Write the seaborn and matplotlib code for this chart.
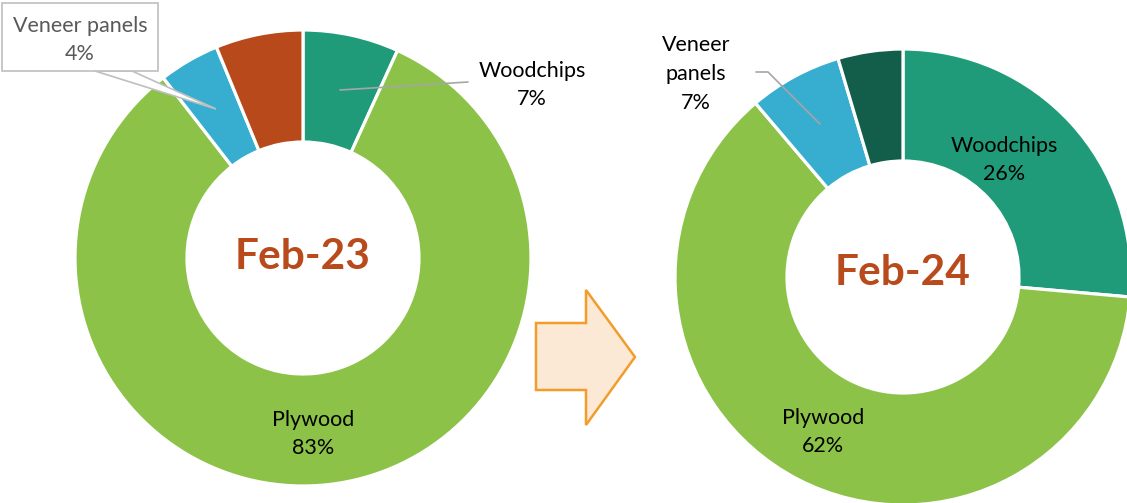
import matplotlib
matplotlib.use("Agg")
import matplotlib.pyplot as plt
import seaborn as sns
from matplotlib.patches import Polygon, Rectangle

# ---- data ----
categories = ["Woodchips", "Plywood", "Veneer panels", "Other"]
feb23_values = [6.8, 82.7, 4.3, 6.2]
feb24_values = [26.4, 62.4, 6.6, 4.6]
titles = ["Feb-23", "Feb-24"]
colors23 = ["#1f9b79", "#8cc247", "#37aed0", "#b7491a"]
colors24 = ["#1f9b79", "#8cc247", "#37aed0", "#135e4b"]

sns.set_theme(style="white")
plt.rcParams['font.family'] = ['Lato', 'DejaVu Sans']

W, H = 1127, 503
fig = plt.figure(figsize=(W / 100, H / 100), dpi=100)
ax = fig.add_axes([0, 0, 1, 1])

def Y(ypx):
    return H - ypx

R, r = 228, 116
wp = dict(width=R - r, edgecolor="white", linewidth=2.3)

ax.pie(feb23_values, colors=sns.color_palette(colors23), startangle=90, counterclock=False,
       radius=R, center=(303, Y(258)), wedgeprops=wp, frame=True)
ax.pie(feb24_values, colors=sns.color_palette(colors24), startangle=90, counterclock=False,
       radius=R, center=(903, Y(277)), wedgeprops=wp, frame=True)
ax.set_xlim(0, W)
ax.set_ylim(0, H)
ax.set_aspect("equal")
ax.axis("off")

def pct(v):
    return f"{round(v):.0f}%"

lab_fs = 15.5
txt = "black"
ls = 1.55

# Feb-23 labels
ax.plot([340, 468], [Y(90), Y(82)], color="#a6a6a6", lw=1.2)
ax.text(532, Y(85), f"{categories[0]}\n{pct(feb23_values[0])}", ha="center", va="center",
        fontsize=lab_fs, color=txt, linespacing=ls)
ax.text(313, Y(434), f"{categories[1]}\n{pct(feb23_values[1])}", ha="center", va="center",
        fontsize=lab_fs, color=txt, linespacing=ls)
# callout for veneer panels
ax.add_patch(Polygon([(95, Y(71)), (216, Y(109)), (132, Y(71))], closed=True,
                     facecolor="white", edgecolor="#bfbfbf", lw=1.2, zorder=5))
ax.add_patch(Rectangle((2, Y(71)), 156, 68, facecolor="white", edgecolor="#bfbfbf", lw=1.2, zorder=6))
ax.text(80, Y(40), f"{categories[2]}\n{pct(feb23_values[2])}", ha="center", va="center",
        fontsize=lab_fs, color="#595959", linespacing=ls, zorder=7)

ax.text(303, Y(257), titles[0], ha="center", va="center", fontsize=30.5, fontweight="bold",
        color="#b94a1b")

# Feb-24 labels
ax.plot([756, 768, 820], [Y(72), Y(72), Y(124)], color="#a6a6a6", lw=1.2)
ax.text(696, Y(74), "Veneer\npanels\n" + pct(feb24_values[2]), ha="center", va="center",
        fontsize=lab_fs, color=txt, linespacing=ls)
ax.text(1004, Y(160), f"{categories[0]}\n{pct(feb24_values[0])}", ha="center", va="center",
        fontsize=lab_fs, color=txt, linespacing=ls)
ax.text(823, Y(432), f"{categories[1]}\n{pct(feb24_values[1])}", ha="center", va="center",
        fontsize=lab_fs, color=txt, linespacing=ls)
ax.text(903, Y(273), titles[1], ha="center", va="center", fontsize=30.5, fontweight="bold",
        color="#b94a1b")

# arrow
arrow = [(536, Y(323)), (586, Y(323)), (586, Y(290)), (635, Y(357)),
         (586, Y(425)), (586, Y(390)), (536, Y(390))]
ax.add_patch(Polygon(arrow, closed=True, facecolor="#fbe9d5", edgecolor="#f29d2b", lw=1.8))

fig.savefig("out.png", dpi=100, facecolor="white")
